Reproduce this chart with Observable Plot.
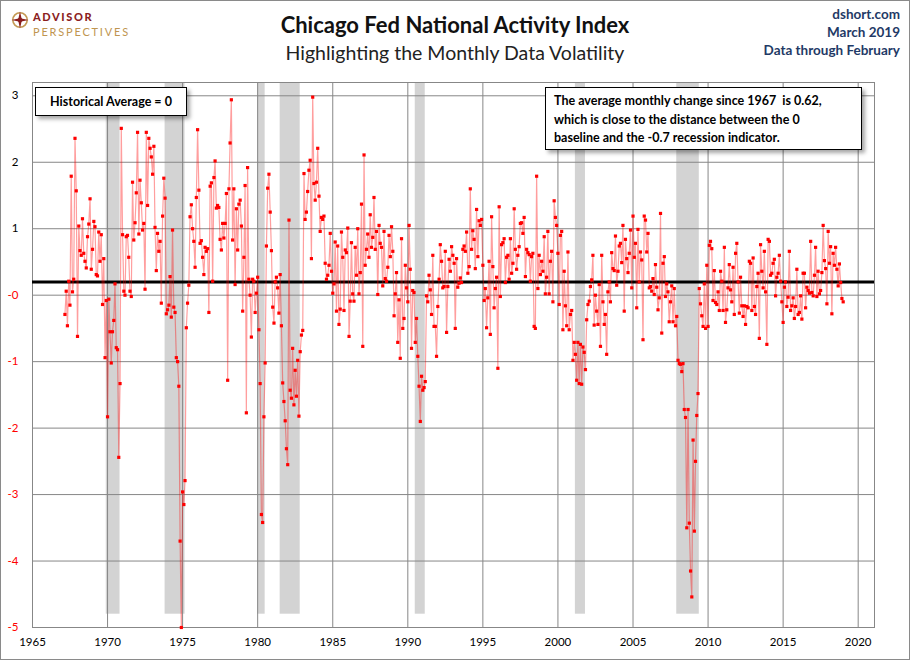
<!DOCTYPE html>
<html>
<head>
<meta charset="utf-8">
<script src="https://cdn.jsdelivr.net/npm/d3@7"></script>
<script src="https://cdn.jsdelivr.net/npm/@observablehq/plot@0.6"></script>
<style>
  body { margin: 0; background: #fff; }
  #page { position: relative; width: 910px; height: 660px; overflow: hidden; font-family: Lato, "Open Sans", sans-serif; background:#fff; }
  #chart { position: absolute; left: 0; top: 0; }
  .border { position: absolute; left: 0; top: 0; width: 910px; height: 660px; box-sizing: border-box; border: 1px solid #8a8a8a; pointer-events: none; }
  #title { position: absolute; left: 0; width: 910px; top: 11px; text-align: center; font-size: 22px; font-weight: 700; color: #111; }
  #subtitle { position: absolute; left: 0; width: 910px; top: 41px; text-align: center; font-size: 19.5px; color: #222; }
  #src { position: absolute; right: 10px; top: 5px; text-align: right; color: #1f3a66; font-size: 13.5px; font-weight: 700; line-height: 18px; }
  .box { position: absolute; background: #fff; border: 1px solid #000; box-shadow: 3px 3px 4px rgba(0,0,0,0.35); font-weight: 700; font-size: 12.5px; color: #000; box-sizing: border-box; }
  #logoicon { position: absolute; left: 11px; top: 11px; }
  #logotext { position: absolute; left: 33px; top: 8px; line-height: 13.4px; white-space: nowrap; }
  #logotext .a { font-size: 11px; font-weight: 900; color: #8c1f1f; letter-spacing: 1.6px; }
  #logotext .p { font-size: 11px; font-weight: 400; color: #c09550; letter-spacing: 1.8px; }
</style>
</head>
<body>
<div id="page">
  <div id="chart"></div>
  <svg id="logoicon" width="18" height="18" viewBox="0 0 18 18">
    <circle cx="9" cy="9" r="7.2" fill="none" stroke="#c49a55" stroke-width="1.6"/>
    <path d="M9 0.5 L10.6 7.4 L17.5 9 L10.6 10.6 L9 17.5 L7.4 10.6 L0.5 9 L7.4 7.4 Z" fill="#8c1f1f"/>
    <circle cx="9" cy="9" r="2.2" fill="#8c1f1f"/>
  </svg>
  <div id="logotext"><span class="a">ADVISOR</span><br><span class="p">PERSPECTIVES</span></div>
  <div id="title">Chicago Fed National Activity Index</div>
  <div id="subtitle">Highlighting the Monthly Data Volatility</div>
  <div id="src">dshort.com<br>March 2019<br>Data through February</div>
  <div class="box" style="left:35px; top:87px; width:152px; height:29px; line-height:27px; text-align:center;">Historical Average = 0</div>
  <div class="box" style="left:545px; top:87px; width:317px; height:63px; padding:4px 0 0 8px; line-height:18.5px;">The average monthly change since 1967&nbsp; is 0.62,<br>which is close to the distance between the 0<br>baseline and the -0.7 recession indicator.</div>
  <div class="border"></div>
</div>
<script>
// Chicago Fed National Activity Index, monthly, starting March 1967
const startYear = 1967;
const startMonthIndex = 2; // March
const cfnai1967_1973 = [-0.49,-0.14,-0.66,0.01,-0.35,1.59,-0.15,0.04,2.16,1.37,-0.82,0.84,0.47,0.40,0.95,0.43,0.31,0.21,0.68,0.87,1.25,0.19,0.49,0.91,0.83,0.11,0.09,0.75,0.31,0.71,-0.34,0.35,-1.14,-0.28,-2.03,-0.26,-0.75,-1.22,-0.75,-0.58,-0.03,-0.99,-1.02,-2.64,-1.53,2.31,0.71,-0.14,-0.20,0.68,0.70,0.37,-0.14,-0.22,1.50,0.63,0.89,1.34,2.25,0.72,1.53,1.19,0.78,0.88,-0.11,2.25,1.15,2.16,2.01,1.88,1.62,2.04];
const cfnai1973_1980 = [0.82,0.17,0.73,0.46,0.61,-0.32,0.99,1.56,1.26,-0.48,-0.42,-0.35,0.08,-0.53,0.78,-0.38,-0.46,-1.14,-1.20,-1.57,-3.90,-5.2,-3.16,-3.35,-2.99,-0.69,-0.32,-0.05,0.98,1.16,0.80,0.61,0.22,1.27,2.29,1.38,0.58,0.62,0.37,0.11,0.52,0.46,0.50,-0.46,1.44,1.49,0.01,1.57,1.82,1.11,1.15,1.12,0.64,0.48,0.88,0.66,0.88,1.33,-1.48,1.40,2.09,2.74,0.63,1.40,-0.04,1.10,0.48,1.17,1.23,0.84,-0.44,0.37,1.45,-1.97,1.72,0.04,-0.20,-0.83,0.04,0.01,-0.46,-0.17,0.07,-0.72,-1.53];
const cfnai1980_1986 = [-3.50,-3.62,-2.03,-1.22,0.54,1.41,1.62,1.05,0.47,-0.38,-0.62,0.00,0.07,-0.09,-0.47,0.11,-0.66,-1.52,-1.80,-2.09,-2.51,-2.75,0.93,-1.63,-1.75,-1.00,-1.85,-1.33,-1.72,-1.18,-2.02,-1.05,-0.80,-0.73,1.63,0.94,1.05,1.36,1.68,1.83,0.35,2.78,1.48,1.23,1.50,2.01,1.29,0.76,0.97,0.94,0.99,0.28,0.04,0.10,0.25,0.73,0.16,-0.17,-0.03,0.60,-0.44,0.54,-0.64,-0.41,0.75,0.37,-0.43,0.48,0.44,0.81,-0.82,-0.29,0.59,-0.18,-0.29,0.52,0.10,0.80,-0.18,0.14,1.17];
const cfnai1987_1993 = [-0.97,1.91,0.25,0.49,0.72,0.37,1.01,0.52,0.67,1.27,0.49,0.76,-0.19,0.85,0.58,0.52,-0.06,0.76,0.05,0.01,0.22,0.70,0.38,0.83,0.46,-0.51,-0.18,0.14,-0.91,-0.27,-1.15,0.65,-0.70,-0.55,0.25,-0.09,-0.30,0.85,0.19,-1.00,-0.13,-0.16,-0.91,-0.55,-1.12,-1.57,-2.10,-1.42,-1.63,-1.59,-1.50,-0.21,-0.30,0.10,-0.12,-0.49,0.40,-0.67,-0.67,-1.12,-0.37,0.04,0.56,0.31,-0.09,-0.07,0.46,-0.76,-0.07,0.34,0.16,0.53,0.40,0.28];
const cfnai1993_2000 = [-0.70,0.35,-0.08,-0.02,0.06,-0.01,0.49,0.54,0.46,0.75,0.13,0.23,1.40,0.49,0.77,0.64,0.20,1.09,0.38,0.92,0.85,0.94,0.25,-0.28,-0.10,-0.69,-0.24,0.31,-0.79,0.98,0.23,-0.39,-0.10,0.07,-1.30,1.13,-0.22,0.56,0.59,0.65,-0.01,0.37,0.40,0.04,0.65,0.13,0.28,1.10,0.49,0.19,0.40,0.53,0.88,0.89,0.73,0.97,0.08,0.49,0.44,0.41,0.01,0.38,0.43,-0.67,-0.70,1.59,-0.10,0.40,0.11,0.31,0.16,0.68,-0.18,0.07,0.76,-0.18,0.31,0.46,-0.30,1.22,0.97,0.85,0.43,-0.34,0.70];
const cfnai2000_2006 = [0.76,-0.72,0.16,-0.36,-0.66,0.45,-0.72,-0.49,-0.43,-1.18,-0.91,-1.09,-1.48,-0.91,-1.53,-0.94,-1.54,-0.98,-1.06,-1.32,-0.57,-0.34,-0.29,-0.07,0.03,0.40,-0.65,-0.20,-0.44,-0.64,-0.04,-0.97,0.40,-0.30,-0.64,-0.49,-1.09,-0.15,0.00,-0.30,0.44,0.20,0.17,0.69,-0.05,0.16,0.54,0.58,0.29,0.85,-0.44,0.64,0.35,0.14,0.43,0.78,-0.09,0.99,0.37,0.58,-0.39,0.79,0.00,0.45,0.33,-0.87,0.99,0.93,0.45,0.73,-0.09,-0.07,-0.14,0.05,-0.19];
const cfnai2006_2013 = [0.26,-0.08,-0.42,-0.24,1.03,-0.77,0.28,0.38,-0.22,-0.03,-0.15,-0.60,-0.30,-0.06,-0.60,-0.10,-0.66,-0.52,-1.18,-1.23,-1.24,-1.35,-1.23,-1.92,-2.04,-3.70,-1.92,-3.63,-4.35,-4.74,-2.38,-3.75,-2.70,-2.01,-1.68,-0.10,-0.33,-0.51,-0.67,-0.03,-0.70,0.25,-0.67,0.55,0.61,0.50,-0.28,0.17,-0.31,-0.34,-0.15,-0.43,0.16,0.01,-0.43,0.52,-0.61,-0.42,-0.09,0.26,-0.12,-0.30,0.22,-0.49,0.43,0.58,0.00,-0.47,0.07,-0.36,-0.52,-0.36,-0.64,-0.37,-0.39,0.31,0.28,-0.43,0.36,-0.37,-0.49,-0.07,0.13,-0.85];
const cfnai2013_2019 = [0.56,0.16,-0.09,0.46,-0.15,-0.94,0.64,0.61,0.10,0.13,0.28,0.34,-0.21,0.07,0.13,0.40,0.01,-0.30,-0.61,-0.08,0.00,-0.37,-0.23,0.46,-0.43,-0.36,-0.24,-0.55,-0.37,0.19,-0.49,-0.46,-0.21,-0.56,0.13,0.13,-0.39,-0.08,-0.13,-0.17,0.61,-0.16,-0.21,0.10,0.52,-0.22,0.16,-0.18,-0.13,0.14,0.85,0.32,0.20,-0.33,0.76,0.28,0.53,-0.48,0.43,0.25,0.52,0.19,-0.06,0.27,-0.01,-0.25,-0.30];

// NBER recessions (shaded)
const recessionStart = ["1969-12-01","1973-11-01","1980-01-01","1981-07-01","1990-07-01","2001-03-01","2007-12-01"];
const recessionEnd   = ["1970-11-01","1975-03-01","1980-07-01","1982-11-01","1991-03-01","2001-11-01","2009-06-01"];

// axis ticks
const yTickValues = [2.8, 1.8, 0.8, -0.2, -1.2, -2.2, -3.2, -4.2, -5.2];
const xTickYears = [1965, 1970, 1975, 1980, 1985, 1990, 1995, 2000, 2005, 2010, 2015, 2020];
const baseline = [0];

const values = [].concat(cfnai1967_1973, cfnai1973_1980, cfnai1980_1986, cfnai1987_1993,
                         cfnai1993_2000, cfnai2000_2006, cfnai2006_2013, cfnai2013_2019);
const series = values.map((v, i) => ({date: new Date(Date.UTC(startYear, startMonthIndex + i, 1)), value: v}));
const recessions = recessionStart.map((s, i) => ({start: new Date(s), end: new Date(recessionEnd[i])}));
const xTickDates = xTickYears.map(y => new Date(Date.UTC(y, 0, 1)));

const chart = Plot.plot({
  width: 910,
  height: 660,
  marginLeft: 32,
  marginRight: 36,
  marginTop: 82,
  marginBottom: 33,
  style: {fontFamily: "Lato, 'Open Sans', sans-serif", fontSize: "11.5px", background: "transparent", color: "#000"},
  x: {type: "utc", domain: [new Date(Date.UTC(1965, 0, 1)), new Date(Date.UTC(2021, 1, 1))], axis: null},
  y: {domain: [-5.2, 3], axis: null},
  marks: [
    Plot.rect(recessions, {x1: "start", x2: "end", y1: -5, y2: 3, fill: "#d3d3d3"}),
    Plot.ruleY(yTickValues, {stroke: "#878787", strokeWidth: 1}),
    Plot.ruleX(xTickDates, {stroke: "#878787", strokeWidth: 1}),
    Plot.frame({stroke: "#878787"}),
    Plot.ruleY(baseline, {stroke: "#000", strokeWidth: 3}),
    Plot.line(series, {x: "date", y: "value", stroke: "#ff0000", strokeOpacity: 0.38, strokeWidth: 1.2}),
    Plot.dot(series, {x: "date", y: "value", fill: "#ff0000", r: 1.8, symbol: "square"}),
    Plot.text(yTickValues, {y: d => d, frameAnchor: "left", dx: -14, textAnchor: "end",
      text: d => d.toFixed(0), fill: d => d < 0 ? "#ff0000" : "#000"}),
    Plot.text(xTickDates, {x: d => d, frameAnchor: "bottom", dy: 18, text: d => String(d.getUTCFullYear()), fill: "#000"})
  ]
});
document.getElementById("chart").appendChild(chart);
</script>
</body>
</html>
